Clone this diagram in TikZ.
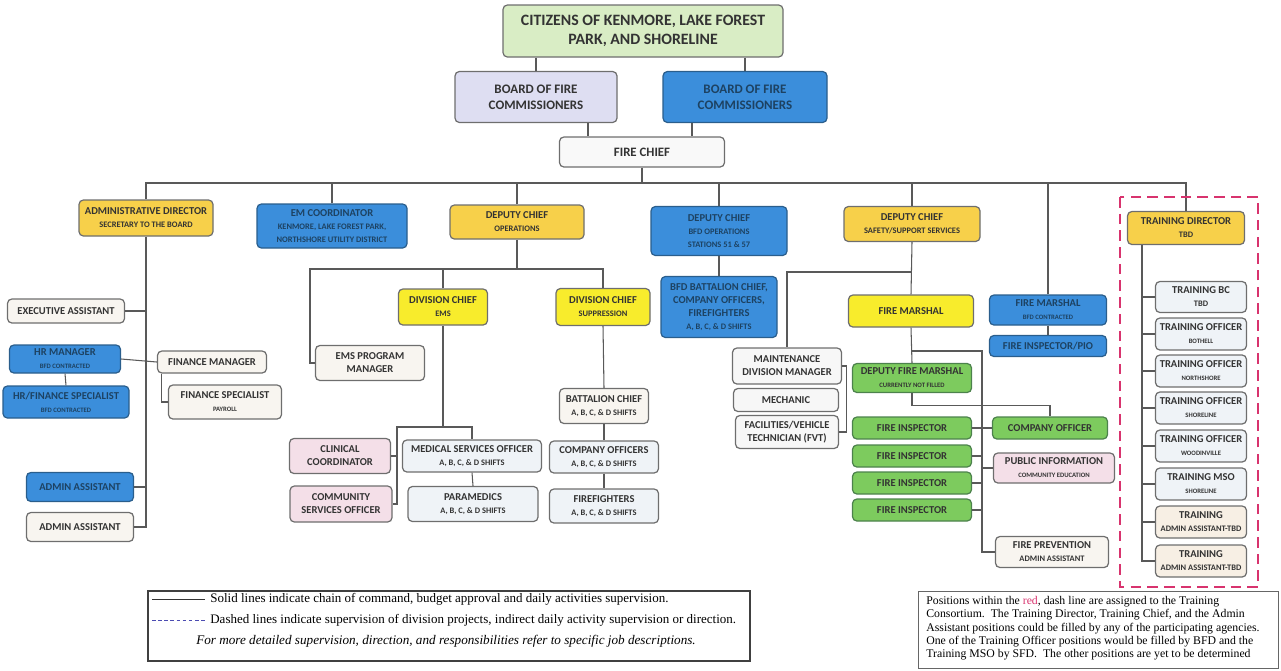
\documentclass[tikz,border=0pt]{standalone}
\usepackage{fontspec}
\setmainfont{Carlito}
\newfontfamily\notefont{Liberation Serif}
\usepackage{tikz}

\definecolor{citgreen}{HTML}{D9EDC5}
\definecolor{boardlav}{HTML}{DEDEF2}
\definecolor{bfdblue}{HTML}{3B8EDB}
\definecolor{bfdedge}{HTML}{2A5E8C}
\definecolor{chiefgold}{HTML}{F7D04A}
\definecolor{divyellow}{HTML}{F8EC2C}
\definecolor{fmgreen}{HTML}{7DCB5E}
\definecolor{pinkbox}{HTML}{F4DFE8}
\definecolor{whitebox}{HTML}{F8F5F0}
\definecolor{paleblue}{HTML}{EFF3F7}
\definecolor{beigebox}{HTML}{F7EFE4}
\definecolor{edgegray}{HTML}{6E6E6E}
\definecolor{txtgray}{HTML}{333333}
\definecolor{consred}{HTML}{D8336E}

\newcommand{\subln}[1]{{\fontsize{4.8}{5.8}\selectfont #1}}
\newcommand{\tinyln}[1]{{\fontsize{3.8}{4.8}\selectfont #1}}

\tikzstyle{orgbox} = [draw=edgegray, rounded corners=2.5pt, line width=0.7pt,
align=center, inner sep=1pt, text=txtgray, font=\bfseries\fontsize{6}{7.4}\selectfont]
\tikzstyle{gold} = [orgbox, fill=chiefgold]
\tikzstyle{lemon} = [orgbox, fill=divyellow]
\tikzstyle{bfd} = [orgbox, fill=bfdblue, draw=bfdedge, text=bfdedge!70!black]
\tikzstyle{fmbox} = [orgbox, fill=fmgreen, draw=green!30!black!70]
\tikzstyle{pinkb} = [orgbox, fill=pinkbox]
\tikzstyle{plain} = [orgbox, fill=whitebox]
\tikzstyle{pale} = [orgbox, fill=paleblue]
\tikzstyle{beige} = [orgbox, fill=beigebox]
\tikzstyle{wire} = [draw=black!65, line width=0.6pt]
\tikzset{sz/.style 2 args={minimum width=#1*0.02cm, minimum height=#2*0.02cm}}

\begin{document}
\begin{tikzpicture}[x=0.02cm, y=-0.02cm]
\useasboundingbox (0,0) rectangle (1281,670);

% board and chief
\node [orgbox, fill=citgreen, sz={280}{52}, font=\bfseries\fontsize{9}{11}\selectfont] (citizens) at (643,31) {CITIZENS OF KENMORE, LAKE FOREST\\PARK, AND SHORELINE};
\node [orgbox, fill=boardlav, sz={162}{51}, font=\bfseries\fontsize{7.4}{9.2}\selectfont] (boardA) at (536,97) {BOARD OF FIRE\\COMMISSIONERS};
\node [bfd, sz={164}{51}, font=\bfseries\fontsize{7.4}{9.2}\selectfont] (boardB) at (745,97) {BOARD OF FIRE\\COMMISSIONERS};
\node [orgbox, fill=gray!5, sz={165}{30}, font=\bfseries\fontsize{7.3}{8.5}\selectfont] (chief) at (642,152) {FIRE CHIEF};

\draw [wire] (citizens.south -| boardA.north) -- (boardA.north);
\draw [wire] (citizens.south -| boardB.north) -- (boardB.north);
\draw [wire] (588,0 |- boardA.south) -- (588,0 |- chief.north);
\draw [wire] (692,0 |- boardB.south) -- (692,0 |- chief.north);

% second row
\node [gold, sz={134}{36}] (admdir) at (146,218) {ADMINISTRATIVE DIRECTOR\\\subln{SECRETARY TO THE BOARD}};
\node [bfd, sz={150}{44}] (emcoord) at (332,226) {EM COORDINATOR\\\subln{KENMORE, LAKE FOREST PARK,}\\\subln{NORTHSHORE UTILITY DISTRICT}};
\node [gold, sz={134}{34}] (dcops) at (517,222) {DEPUTY CHIEF\\\subln{OPERATIONS}};
\node [bfd, sz={136}{49}] (dcbfd) at (719,231) {DEPUTY CHIEF\\\subln{BFD OPERATIONS}\\\subln{STATIONS 51 \& 57}};
\node [gold, sz={136}{35}] (dcsafe) at (912,224) {DEPUTY CHIEF\\\subln{SAFETY/SUPPORT SERVICES}};
\node [gold, sz={117}{33}] (trdir) at (1186,228) {TRAINING DIRECTOR\\\subln{TBD}};
\node [bfd, sz={117}{30}] (fmbfd) at (1048,310) {FIRE MARSHAL\\\tinyln{BFD CONTRACTED}};
\node [bfd, sz={117}{21}] (pio) at (1048,346) {FIRE INSPECTOR/PIO};

\coordinate (bus) at (146,183);
\draw [wire] (chief.south) -- (chief.south |- bus);
\draw [wire] (admdir.north) |- (trdir.north |- bus) -- (trdir.north);
\draw [wire] (emcoord.north) -- (emcoord.north |- bus);
\draw [wire] (dcops.north) -- (dcops.north |- bus);
\draw [wire] (dcbfd.north) -- (dcbfd.north |- bus);
\draw [wire] (dcsafe.north) -- (dcsafe.north |- bus);
\draw [wire] (fmbfd.north) -- (fmbfd.north |- bus);
\draw [wire] (fmbfd.south) -- (pio.north);

% administration
\node [plain, sz={117}{24}] (execasst) at (66,311) {EXECUTIVE ASSISTANT};
\node [bfd, sz={111}{28}] (hrmgr) at (65,359) {HR MANAGER\\\tinyln{BFD CONTRACTED}};
\node [bfd, sz={126}{32}] (hrspec) at (66,402) {HR/FINANCE SPECIALIST\\\tinyln{BFD CONTRACTED}};
\node [plain, sz={109}{22}] (finmgr) at (212,362) {FINANCE MANAGER};
\node [plain, sz={113}{34}] (finspec) at (225,402) {FINANCE SPECIALIST\\\tinyln{PAYROLL}};
\node [bfd, sz={107}{29}] (asstbfd) at (80,487) {ADMIN ASSISTANT};
\node [plain, sz={107}{29}] (asst) at (80,527) {ADMIN ASSISTANT};

\draw [wire] (admdir.south) -- (admdir.south |- asst.east) -- (asst.east);
\draw [wire] (execasst.east) -- (execasst.east -| admdir.south);
\draw [wire] (asstbfd.east) -- (asstbfd.east -| admdir.south);
\draw [wire] (hrmgr.east) -- (finmgr.west);
\draw [wire] (hrmgr.south) -- (hrspec.north);
\draw [wire] (finmgr.south west) ++(5,0) |- (finspec.west);

% operations
\node [plain, sz={109}{35}] (emsprog) at (370,363) {EMS PROGRAM\\MANAGER};
\node [lemon, sz={89}{36}] (dcems) at (443,307) {DIVISION CHIEF\\\subln{EMS}};
\node [lemon, sz={94}{37}] (dcsupp) at (603,307) {DIVISION CHIEF\\\subln{SUPPRESSION}};
\node [plain, sz={89}{35}] (batt) at (604,406) {BATTALION CHIEF\\\subln{A, B, C, \& D SHIFTS}};
\node [pale, sz={109}{32}] (compoff) at (604,457) {COMPANY OFFICERS\\\subln{A, B, C, \& D SHIFTS}};
\node [pale, sz={109}{34}] (ffight) at (604,506) {FIREFIGHTERS\\\subln{A, B, C, \& D SHIFTS}};
\node [pale, sz={139}{32}] (medso) at (472,456) {MEDICAL SERVICES OFFICER\\\subln{A, B, C, \& D SHIFTS}};
\node [pale, sz={130}{35}] (medics) at (473,504) {PARAMEDICS\\\subln{A, B, C, \& D SHIFTS}};
\node [pinkb, sz={101}{35}] (clinic) at (340,456) {CLINICAL\\COORDINATOR};
\node [pinkb, sz={102}{36}] (commso) at (341,504) {COMMUNITY\\SERVICES OFFICER};
\node [bfd, sz={116}{61}] (bfdbatt) at (719,307) {BFD BATTALION CHIEF,\\COMPANY OFFICERS,\\FIREFIGHTERS\\\subln{A, B, C, \& D SHIFTS}};

\coordinate (opsbus) at (310,269);
\draw [wire] (dcops.south) -- (dcops.south |- opsbus);
\draw [wire] (emsprog.west) -| (opsbus) -| (dcsupp.north);
\draw [wire] (dcems.north) -- (dcems.north |- opsbus);
\draw [wire] (dcsupp.south) -- (batt.north);
\draw [wire] (batt.south) -- (compoff.north);
\draw [wire] (compoff.south) -- (ffight.north);
\draw [wire] (medso.south) -- (medics.north);
\coordinate (emsjoin) at (397,427);
\draw [wire] (dcems.south) -- (dcems.south |- emsjoin);
\draw [wire] (medso.north) |- (emsjoin) |- (commso.east);
\draw [wire] (clinic.east) -- (clinic.east -| emsjoin);
\draw [wire] (dcbfd.south) -- (bfdbatt.north);

% safety and support
\node [lemon, sz={125}{32}] (fmarshal) at (911,311) {FIRE MARSHAL};
\node [plain, fill=gray!6, sz={109}{36}] (maint) at (787,366) {MAINTENANCE\\DIVISION MANAGER};
\node [plain, fill=gray!6, sz={105}{23}] (mech) at (786,400) {MECHANIC};
\node [plain, fill=gray!6, sz={103}{33}] (fvt) at (787,432) {FACILITIES/VEHICLE\\TECHNICIAN (FVT)};
\node [fmbox, sz={119}{29}] (dfm) at (912,378) {DEPUTY FIRE MARSHAL\\\tinyln{CURRENTLY NOT FILLED}};
\node [fmbox, sz={119}{22}] (insp1) at (912,428) {FIRE INSPECTOR};
\node [fmbox, sz={119}{22}] (insp2) at (912,456) {FIRE INSPECTOR};
\node [fmbox, sz={119}{22}] (insp3) at (912,483) {FIRE INSPECTOR};
\node [fmbox, sz={119}{22}] (insp4) at (912,510) {FIRE INSPECTOR};
\node [fmbox, sz={115}{22}] (compofc) at (1050,428) {COMPANY OFFICER};
\node [pinkb, sz={121}{30}] (pubinfo) at (1054,468) {PUBLIC INFORMATION\\\tinyln{COMMUNITY EDUCATION}};
\node [plain, sz={113}{31}] (fprev) at (1052,552) {FIRE PREVENTION\\\subln{ADMIN ASSISTANT}};

\draw [wire] (dcsafe.south) -- (fmarshal.north);
\draw [wire] (fmarshal.north |- 0,272) -| (maint.north);
\draw [wire] (maint.east) -- ++(4,0) |- (fvt.east);
\draw [wire] (fmarshal.south) -- (dfm.north);
\draw [wire] (dfm.south) -- ++(0,12) -| (compofc.north);
\coordinate (fmspine) at (982,351);
\draw [wire] (fmarshal.south |- fmspine) -- (fmspine) |- (fprev.west);
\draw [wire] (insp1.east) -- (compofc.west);
\draw [wire] (insp2.east) -- (insp2.east -| fmspine);
\draw [wire] (insp3.east) -- (insp3.east -| fmspine);
\draw [wire] (insp4.east) -- (insp4.east -| fmspine);
\draw [wire] (pubinfo.west) -- (pubinfo.west -| fmspine);

% training consortium
\draw [consred, line width=1.3pt, dash pattern=on 6pt off 3.5pt] (1120,197) rectangle (1258,587);
\node [pale, sz={91}{31}] (trbc) at (1201,297) {TRAINING BC\\\subln{TBD}};
\node [pale, sz={91}{32}] (troA) at (1201,334) {TRAINING OFFICER\\\tinyln{BOTHELL}};
\node [pale, sz={91}{32}] (troB) at (1201,371) {TRAINING OFFICER\\\tinyln{NORTHSHORE}};
\node [pale, sz={91}{32}] (troC) at (1201,408) {TRAINING OFFICER\\\tinyln{SHORELINE}};
\node [pale, sz={91}{32}] (troD) at (1201,446) {TRAINING OFFICER\\\tinyln{WOODINVILLE}};
\node [pale, sz={91}{32}] (trmso) at (1201,484) {TRAINING MSO\\\tinyln{SHORELINE}};
\node [beige, sz={91}{32}] (trasA) at (1201,522) {TRAINING\\\subln{ADMIN ASSISTANT-TBD}};
\node [beige, sz={91}{32}] (trasB) at (1201,561) {TRAINING\\\subln{ADMIN ASSISTANT-TBD}};

\coordinate (trspine) at (1142,0);
\draw [wire] (trspine |- trdir.south) -- (trspine |- trasB.west) -- (trasB.west);
\draw [wire] (trbc.west) -- (trbc.west -| trspine);
\draw [wire] (troA.west) -- (troA.west -| trspine);
\draw [wire] (troB.west) -- (troB.west -| trspine);
\draw [wire] (troC.west) -- (troC.west -| trspine);
\draw [wire] (troD.west) -- (troD.west -| trspine);
\draw [wire] (trmso.west) -- (trmso.west -| trspine);
\draw [wire] (trasA.west) -- (trasA.west -| trspine);

% legend and note
\node [draw=black!75, line width=1pt, sz={602}{70}] (legend) at (449,626) {};
\node [anchor=west, inner sep=0pt, font=\notefont\fontsize{7.4}{8.5}\selectfont] (solidtxt) at (210,599) {Solid lines indicate chain of command, budget approval and daily activities supervision.};
\node [anchor=west, inner sep=0pt, font=\notefont\fontsize{7.4}{8.5}\selectfont] (dashtxt) at (210,620) {Dashed lines indicate supervision of division projects, indirect daily activity supervision or direction.};
\node [inner sep=0pt, font=\notefont\itshape\fontsize{7.5}{8.5}\selectfont] (moretxt) at (446,641) {For more detailed supervision, direction, and responsibilities refer to specific job descriptions.};
\draw [black!80, line width=0.4pt] (solidtxt.west) ++(-58,0) -- ++(53,0);
\draw [blue!40!gray, line width=0.4pt, dash pattern=on 2pt off 1.5pt] (dashtxt.west) ++(-58,0) -- ++(53,0);

\node [draw=black!60, line width=0.8pt, sz={360}{77}, anchor=north west, inner sep=0pt] (notebox) at (918,591) {};
\node [anchor=north west, align=left, inner sep=0pt, font=\notefont\fontsize{6.7}{7.55}\selectfont] (notetxt) at (926,596) {Positions within the \textcolor{consred}{red}, dash line are assigned to the Training\\Consortium.\ \ The Training Director, Training Chief, and the Admin\\Assistant positions could be filled by any of the participating agencies.\\One of the Training Officer positions would be filled by BFD and the\\Training MSO by SFD.\ \ The other positions are yet to be determined};
\end{tikzpicture}
\end{document}
